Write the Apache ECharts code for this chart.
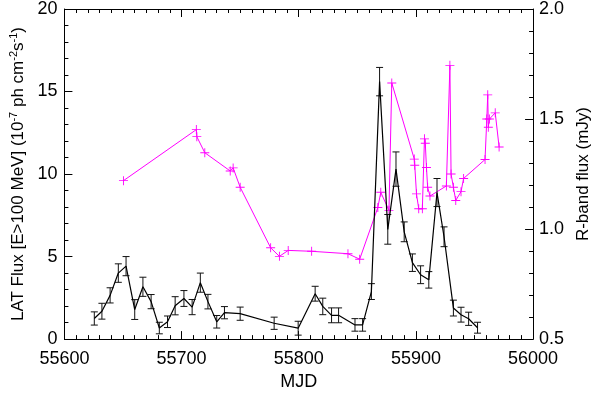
<!DOCTYPE html>
<html>
<head>
  <meta charset="utf-8">
  <title>LAT flux and R-band flux</title>
  <script src="https://cdn.jsdelivr.net/npm/echarts@6/dist/echarts.min.js"></script>
</head>
<body style="margin:0">
  <div id="main" style="width:600px;height:396px;"></div>
  <script type="text/javascript">
    // LAT light curve (weekly bins): MJD, flux (1e-7 ph cm-2 s-1), 1-sigma error
    var latMjd = [55625.5, 55632, 55639, 55646, 55652.6, 55660, 55667, 55674, 55681, 55688,
      55694.5, 55702, 55709, 55716, 55722.5, 55730, 55736.6, 55750, 55779, 55799.5,
      55814, 55820.5, 55828, 55834, 55848, 55854.5, 55862, 55869, 55876, 55883,
      55890, 55897, 55904, 55911, 55918, 55924, 55932, 55938.5, 55945, 55952.6];
    var latFlux = [1.25, 1.69, 2.65, 4.0, 4.42, 1.79, 3.17, 2.27, 0.67, 1.05,
      2.02, 2.46, 1.94, 3.42, 2.27, 1.05, 1.6, 1.54, 0.96, 0.66,
      2.75, 1.98, 1.44, 1.44, 0.86, 0.86, 2.88, 15.6, 6.65, 10.3,
      6.5, 4.63, 3.9, 3.59, 8.88, 6.2, 1.88, 1.48, 1.23, 0.69];
    var latErr = [0.4, 0.48, 0.46, 0.56, 0.58, 0.6, 0.58, 0.43, 0.35, 0.35,
      0.55, 0.48, 0.46, 0.58, 0.44, 0.38, 0.37, 0.4, 0.37, 0.42,
      0.45, 0.5, 0.45, 0.45, 0.38, 0.38, 0.48, 0.86, 0.9, 1.04,
      0.6, 0.53, 0.54, 0.5, 0.85, 0.6, 0.48, 0.45, 0.4, 0.33];

    // optical R-band light curve: MJD, flux (mJy)
    var rMjd = [55650.4, 55712.6, 55713, 55719.8, 55741.5, 55744, 55750, 55776, 55783.5, 55791,
      55811, 55842, 55852, 55867.5, 55870, 55877, 55879.4, 55898.6, 55899, 55900.5,
      55902.4, 55905.5, 55907.3, 55908, 55909, 55910, 55912, 55926, 55929, 55930,
      55932, 55934, 55938.5, 55940.7, 55959, 55960.5, 55961.3, 55961.8, 55962.7, 55967.7, 55971];
    var rFlux = [1.22, 1.452, 1.42, 1.347, 1.264, 1.278, 1.19, 0.915, 0.876, 0.903,
      0.899, 0.888, 0.863, 1.098, 1.167, 1.085, 1.664, 1.318, 1.29, 1.16,
      1.092, 1.092, 1.41, 1.39, 1.28, 1.19, 1.15, 1.196, 1.744, 1.25,
      1.19, 1.13, 1.17, 1.23, 1.316, 1.50, 1.61, 1.463, 1.5, 1.528, 1.373];

    var xTicks = [55600, 56000, 100];
    var yLeftTicks = [0, 20, 5];
    var yRightTicks = [0.5, 2.0, 0.5];

    var font = 'Liberation Sans, Arial, Helvetica, sans-serif';
    var latLine = latMjd.map(function (m, i) { return [m, latFlux[i]]; });
    var latBars = latMjd.map(function (m, i) { return [m, latFlux[i] - latErr[i], latFlux[i] + latErr[i]]; });
    var rLine = rMjd.map(function (m, i) { return [m, rFlux[i]]; });

    function renderErr(params, api) {
      var x = api.value(0);
      var p1 = api.coord([x, api.value(1)]);
      var p2 = api.coord([x, api.value(2)]);
      var w = 3.5;
      var st = { stroke: '#111', lineWidth: 1 };
      return {
        type: 'group',
        children: [
          { type: 'line', shape: { x1: p1[0], y1: p1[1], x2: p2[0], y2: p2[1] }, style: st },
          { type: 'line', shape: { x1: p1[0] - w, y1: p1[1], x2: p1[0] + w, y2: p1[1] }, style: st },
          { type: 'line', shape: { x1: p2[0] - w, y1: p2[1], x2: p2[0] + w, y2: p2[1] }, style: st }
        ]
      };
    }

    var axisCommon = {
      axisLine: { show: true, lineStyle: { color: '#000', width: 1 } },
      axisTick: { show: true, inside: true, length: 8, lineStyle: { color: '#000' } },
      minorTick: { show: true, length: 4, lineStyle: { color: '#000' } },
      splitLine: { show: false },
      minorSplitLine: { show: false }
    };

    var myChart = echarts.init(document.getElementById('main'), null, { renderer: 'canvas' });
    var option = {
      animation: false,
      backgroundColor: '#fff',
      textStyle: { fontFamily: font },
      grid: { left: 57, right: 53, top: 4, bottom: 46 },
      xAxis: [
        Object.assign({}, axisCommon, {
          type: 'value', position: 'bottom',
          min: xTicks[0], max: xTicks[1], interval: xTicks[2],
          minorTick: { show: true, splitNumber: 10, length: 4, lineStyle: { color: '#000' } },
          axisLabel: {
            margin: 11, color: '#000', fontSize: 18, fontFamily: font,
            formatter: function (v) { return String(v); }
          },
          name: 'MJD', nameLocation: 'middle', nameGap: 31,
          nameTextStyle: { color: '#000', fontSize: 18, fontFamily: font }
        }),
        Object.assign({}, axisCommon, {
          type: 'value', position: 'top',
          min: xTicks[0], max: xTicks[1], interval: xTicks[2],
          minorTick: { show: true, splitNumber: 10, length: 4, lineStyle: { color: '#000' } },
          axisLabel: { show: false }
        })
      ],
      yAxis: [
        Object.assign({}, axisCommon, {
          type: 'value', position: 'left',
          min: yLeftTicks[0], max: yLeftTicks[1], interval: yLeftTicks[2],
          minorTick: { show: true, splitNumber: 5, length: 4, lineStyle: { color: '#000' } },
          axisLabel: { margin: 7, color: '#000', fontSize: 18, fontFamily: font },
          name: 'LAT Flux [E>100 MeV] (10{sup|-7} ph cm{sup|-2}s{sup|-1})',
          nameLocation: 'middle', nameGap: 34, nameRotate: 90,
          nameTextStyle: {
            color: '#000', fontSize: 17, fontFamily: font,
            rich: { sup: { fontSize: 11, color: '#000', fontFamily: font, padding: [0, 0, 9, 0] } }
          }
        }),
        Object.assign({}, axisCommon, {
          type: 'value', position: 'right',
          min: yRightTicks[0], max: yRightTicks[1], interval: yRightTicks[2],
          minorTick: { show: true, splitNumber: 5, length: 4, lineStyle: { color: '#000' } },
          axisLabel: {
            margin: 6, color: '#000', fontSize: 18, fontFamily: font,
            formatter: function (v) { return v.toFixed(1); }
          },
          name: 'R-band flux (mJy)',
          nameLocation: 'middle', nameGap: 36, nameRotate: 90,
          nameTextStyle: { color: '#000', fontSize: 17, fontFamily: font }
        })
      ],
      series: [
        {
          name: 'R-band', type: 'line', xAxisIndex: 0, yAxisIndex: 1,
          data: rLine,
          symbol: 'path://M-0.1,-1H0.1V-0.1H1V0.1H0.1V1H-0.1V0.1H-1V-0.1H-0.1Z',
          symbolSize: 9,
          itemStyle: { color: '#ff00ff' },
          lineStyle: { color: '#ff00ff', width: 1 },
          z: 2
        },
        {
          name: 'LAT err', type: 'custom', xAxisIndex: 0, yAxisIndex: 0,
          renderItem: renderErr,
          encode: { x: 0, y: [1, 2] },
          data: latBars,
          z: 3
        },
        {
          name: 'LAT', type: 'line', xAxisIndex: 0, yAxisIndex: 0,
          data: latLine,
          symbol: 'none',
          lineStyle: { color: '#000', width: 1.2 },
          z: 4
        }
      ]
    };
    myChart.setOption(option);
  </script>
</body>
</html>
